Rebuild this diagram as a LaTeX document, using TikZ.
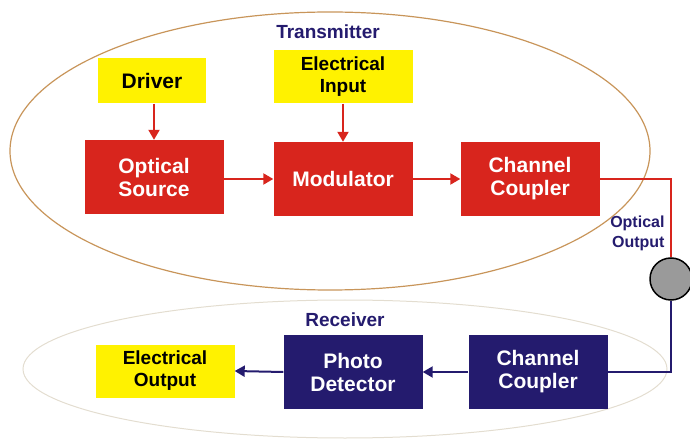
\documentclass[tikz,border=0pt]{standalone}
\usepackage{fontspec}
\setmainfont{Liberation Sans}
\usetikzlibrary{arrows.meta}
\definecolor{boxred}{HTML}{D8251D}
\definecolor{boxyel}{HTML}{FFF200}
\definecolor{navy}{HTML}{241B6E}
\definecolor{txorange}{HTML}{C8955A}
\definecolor{rxbeige}{HTML}{E3DDD0}
\definecolor{circgray}{HTML}{9A9A9A}
\tikzset{
  blk/.style={minimum width=139bp, minimum height=74bp, inner sep=0pt, align=center,
     font=\fontsize{21bp}{23bp}\selectfont\bfseries, text=white},
  redblk/.style={blk, fill=boxred},
  navyblk/.style={blk, fill=navy},
  yelblk/.style={inner sep=0pt, align=center, fill=boxyel, text=black,
     font=\fontsize{19bp}{22bp}\selectfont\bfseries},
  title/.style={text=navy, font=\fontsize{19bp}{21bp}\selectfont\bfseries},
  redarr/.style={draw=boxred, line width=2bp, -{Triangle[length=10bp,width=11bp]}},
  navyarr/.style={draw=navy, line width=2bp, -{Triangle[length=10bp,width=11bp]}},
}
\begin{document}
\begin{tikzpicture}[x=1bp,y=-1bp]
\useasboundingbox (0,0) rectangle (690,439);
% ellipses
\draw[txorange, line width=1.2bp] (330,151) ellipse [x radius=320, y radius=139];
\draw[rxbeige, line width=1bp] (345,369) ellipse [x radius=322, y radius=69];
% titles
\node[title] (tx) at (328,32) {Transmitter};
\node[title] (rx) at (345,320) {Receiver};
% transmitter blocks
\node[yelblk, minimum width=108bp, minimum height=45bp, font=\fontsize{21bp}{23bp}\selectfont\bfseries] (drv) at (152,81) {Driver};
\node[yelblk, minimum width=139bp, minimum height=53bp] (ein) at (343,77) {Electrical\\Input};
\node[redblk] (osrc) at (154,177) {Optical\\Source};
\node[redblk] (mod) at (343,179) {Modulator};
\node[redblk] (tcc) at (530,179) {Channel\\Coupler};
% receiver blocks
\node[yelblk, minimum width=139bp, minimum height=53bp] (eout) at (165,371) {Electrical\\Output};
\node[navyblk] (pd) at (353,372) {Photo\\Detector};
\node[navyblk] (rcc) at (538,372) {Channel\\Coupler};
% fibre joint
\node[circle, draw=black, line width=1.5bp, fill=circgray, minimum size=42bp, inner sep=0pt] (joint) at (671,279) {};
\node[text=navy, align=right, anchor=east, font=\fontsize{16bp}{20bp}\selectfont\bfseries] (oo) at (668,233) {Optical\\Output};
% arrows transmitter
\draw[redarr] (drv.south -| osrc.north) -- (osrc.north);
\draw[redarr] (ein.south) -- (mod.north);
\draw[redarr] (osrc.east |- mod.west) -- (mod.west);
\draw[redarr] (mod.east) -- (tcc.west);
\draw[boxred, line width=1.6bp] (tcc.east) -| (joint.north);
% receiver
\draw[navy, line width=1.8bp] (joint.south) |- (rcc.east);
\draw[navyarr] (rcc.west) -- (pd.east);
\draw[navyarr] (pd.west) -- (eout.east);
\end{tikzpicture}
\end{document}
